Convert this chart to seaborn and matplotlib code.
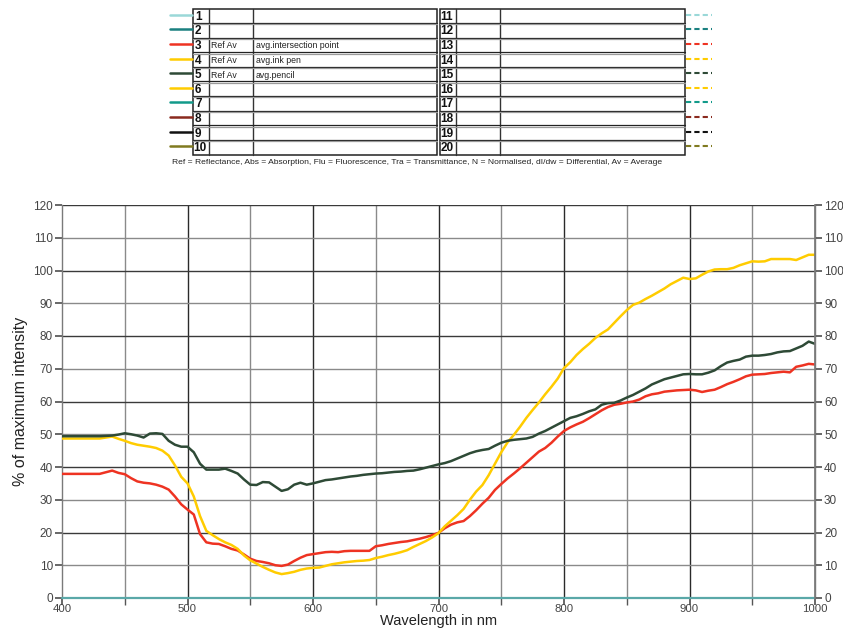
import matplotlib
matplotlib.use("Agg")
import matplotlib.pyplot as plt
import numpy as np
import pandas as pd
import seaborn as sns
from matplotlib.lines import Line2D
from matplotlib.patches import Rectangle

# Wavelength grid (nm), 5 nm steps
wavelength = list(range(400, 1001, 5))

# avg.intersection point (Ref Av)
intersection = [
    37.9, 37.9, 37.9, 37.9, 37.9, 37.9, 37.9, 38.4, 38.9, 38.2,
    37.8, 36.6, 35.6, 35.2, 35.0, 34.6, 34.0, 33.1, 31.0, 28.6,
    27.0, 25.5, 19.5, 17.0, 16.6, 16.5, 15.8, 15.0, 14.5, 13.3,
    12.0, 11.3, 11.0, 10.6, 10.0, 9.8, 10.2, 11.3, 12.3, 13.1,
    13.4, 13.7, 14.0, 14.1, 14.0, 14.3, 14.4, 14.4, 14.4, 14.4,
    15.8, 16.1, 16.5, 16.8, 17.1, 17.3, 17.7, 18.1, 18.6, 19.2,
    19.9, 21.3, 22.4, 23.1, 23.5, 25.0, 26.8, 28.8, 30.6, 33.0,
    34.8, 36.5, 38.0, 39.6, 41.3, 43.0, 44.7, 45.8, 47.4, 49.3,
    51.0, 52.1, 53.0, 53.8, 54.9, 56.1, 57.3, 58.3, 59.0, 59.3,
    59.7, 60.0, 60.6, 61.6, 62.2, 62.5, 63.0, 63.2, 63.4, 63.5,
    63.6, 63.4, 62.9, 63.3, 63.6, 64.4, 65.3, 66.0, 66.8, 67.7,
    68.2, 68.3, 68.4, 68.7, 68.9, 69.1, 68.9, 70.6, 71.0, 71.5,
    71.3,
]

# avg.ink pen (Ref Av)
ink_pen = [
    48.7, 48.7, 48.7, 48.7, 48.7, 48.7, 48.7, 49.0, 49.3, 48.6,
    48.0, 47.3, 46.8, 46.5, 46.2, 45.8, 45.0, 43.5, 40.5, 37.0,
    35.0, 31.0, 25.0, 20.5, 19.2, 18.0, 17.0, 16.2, 15.0, 13.0,
    11.5, 10.5, 9.5, 8.6, 7.8, 7.3, 7.6, 8.0, 8.6, 9.0,
    9.2, 9.3, 9.8, 10.3, 10.6, 10.9, 11.1, 11.3, 11.4, 11.6,
    12.2, 12.6, 13.1, 13.5, 14.0, 14.6, 15.6, 16.5, 17.4, 18.5,
    19.8, 21.9, 23.6, 25.3, 27.2, 30.0, 32.5, 34.5, 37.5, 41.0,
    44.5, 47.5, 49.8, 52.3, 55.0, 57.4, 59.7, 62.2, 64.5, 67.0,
    70.2, 72.0, 74.2, 76.0, 77.6, 79.4, 80.8, 82.0, 84.0, 86.0,
    87.9, 89.5, 90.2, 91.3, 92.3, 93.4, 94.5, 95.8, 96.8, 97.8,
    97.4, 97.6, 98.7, 99.7, 100.3, 100.4, 100.4, 100.8, 101.6, 102.2,
    102.8, 102.7, 102.8, 103.5, 103.5, 103.5, 103.5, 103.2, 104.0, 104.8,
    104.8,
]

# avg.pencil (Ref Av)
pencil = [
    49.4, 49.4, 49.4, 49.4, 49.4, 49.4, 49.4, 49.5, 49.6, 49.9,
    50.3, 50.0, 49.6, 49.0, 50.2, 50.3, 50.1, 48.0, 46.8, 46.2,
    46.2, 44.5, 41.0, 39.2, 39.2, 39.2, 39.5, 38.8, 38.0, 36.2,
    34.6, 34.5, 35.4, 35.3, 34.0, 32.7, 33.2, 34.6, 35.2, 34.6,
    35.0, 35.5, 36.0, 36.2, 36.5, 36.8, 37.1, 37.3, 37.6, 37.8,
    38.0, 38.1, 38.3, 38.5, 38.6, 38.8, 38.9, 39.3, 39.8, 40.3,
    40.8, 41.2, 41.8, 42.6, 43.4, 44.2, 44.8, 45.2, 45.5, 46.5,
    47.4, 48.0, 48.3, 48.5, 48.7, 49.2, 50.2, 51.0, 52.0, 53.0,
    54.0, 55.0, 55.5, 56.2, 57.0, 57.6, 59.0, 59.5, 59.6, 60.3,
    61.2, 62.0, 63.0, 64.0, 65.2, 66.0, 66.8, 67.3, 67.8, 68.3,
    68.4, 68.3, 68.3, 68.8, 69.5, 70.8, 71.9, 72.4, 72.8, 73.7,
    74.0, 74.0, 74.2, 74.5, 75.0, 75.3, 75.4, 76.2, 77.0, 78.3,
    77.6,
]

# Table contents
slot_numbers = list(range(1, 21))
slot_colors = ["#9ad8d8", "#1a8080", "#ee3322", "#ffcc00", "#2e4a36",
               "#ffcc00", "#129a8a", "#8a2a1e", "#111111", "#807a20"]
slot_types = {3: "Ref Av", 4: "Ref Av", 5: "Ref Av"}
slot_names = {3: "avg.intersection point", 4: "avg.ink pen", 5: "avg.pencil"}
footnote = ("Ref = Reflectance, Abs = Absorption, Flu = Fluorescence, "
            "Tra = Transmittance, N = Normalised, dI/dw = Differential, Av = Average")

series_names = ["avg.intersection point", "avg.ink pen", "avg.pencil"]
series_colors = ["#ee3322", "#ffcc00", "#2e4a36"]

y_ticks = list(range(0, 121, 10))
x_ticks = list(range(400, 1001, 100))

sns.set_theme(style="white")
plt.rcParams["font.family"] = ["Liberation Sans", "DejaVu Sans"]

W, H = 843, 630
fig = plt.figure(figsize=(W / 100, H / 100), dpi=100)

# ---- main chart ----
ax = fig.add_axes([62 / W, 1 - 598 / H, (815 - 62) / W, (598 - 205) / H])
df = pd.DataFrame({
    "wavelength": wavelength * 3,
    "value": intersection + ink_pen + pencil,
    "series": [series_names[0]] * len(wavelength)
    + [series_names[1]] * len(wavelength)
    + [series_names[2]] * len(wavelength),
})
sns.lineplot(data=df, x="wavelength", y="value", hue="series",
             palette=dict(zip(series_names, series_colors)),
             linewidth=1.8, legend=False, ax=ax, zorder=3)

ax.set_xlim(400, 1000)
ax.set_ylim(0, 120)

# grid: dark at hundreds, grey at the fifties; horizontal every 10
for xv in range(450, 1000, 50):
    ax.axvline(xv, color="#2a2a2a" if xv % 100 == 0 else "#8a8a8a",
               lw=1.0, zorder=1)
for yv in range(10, 121, 10):
    ax.axhline(yv, color="#3a3a3a" if yv % 20 == 0 else "#8a8a8a",
               lw=1.0, zorder=1)
ax.axhline(0, color="#5aa8a8", lw=1.6, zorder=4, clip_on=False)

ax.set_xticks(x_ticks)
ax.set_xticks(list(range(450, 1000, 100)), minor=True)
ax.set_yticks(y_ticks)
ax.set_xticklabels([str(v) for v in x_ticks])
ax.set_yticklabels([str(v) for v in y_ticks])
ax.tick_params(axis="both", which="both", direction="out", length=5,
               color="#555555", labelcolor="#444444", labelsize=8.5,
               bottom=True, left=True, pad=1.5)
ax.tick_params(axis="x", pad=-1, labelsize=8.2)
for side in ["top", "bottom"]:
    ax.spines[side].set_visible(False)
for side in ["left", "right"]:
    ax.spines[side].set_color("#7a7a7a")
    ax.spines[side].set_linewidth(1.0)

ax.set_xlabel("Wavelength in nm", fontsize=10.5, color="#222222", labelpad=0.5)
ax.set_ylabel("% of maximum intensity", fontsize=11.5, color="#222222", labelpad=4)

ax2 = ax.twinx()
ax2.set_ylim(0, 120)
ax2.set_yticks(y_ticks)
ax2.set_yticklabels([str(v) for v in y_ticks])
ax2.tick_params(axis="y", direction="out", length=5, color="#555555",
                labelcolor="#444444", labelsize=8.5, right=True, pad=1.5)
for side in ["top", "bottom", "left"]:
    ax2.spines[side].set_visible(False)
ax2.spines["right"].set_color("#7a7a7a")
ax2.grid(False)

# ---- trace table above the chart (pixel coordinates) ----
tab = fig.add_axes([0, 0, 1, 1], zorder=5)
tab.set_xlim(0, W)
tab.set_ylim(H, 0)
tab.axis("off")
tab.patch.set_alpha(0)

top, row_h, n_rows = 9.0, 14.6, 10
bottom = top + row_h * n_rows
halves = [(193, 209, 253, 437), (440, 456, 500, 685)]
for half, (x0, x1, x2, x3) in enumerate(halves):
    tab.add_patch(Rectangle((x0, top), x3 - x0, bottom - top, fill=False,
                            ec="#222222", lw=1.1))
    for xv in (x1, x2):
        tab.plot([xv, xv], [top, bottom], color="#333333", lw=1.0)
    for r in range(1, n_rows):
        yv = top + r * row_h
        tab.plot([x0, x3], [yv - 0.6, yv - 0.6], color="#222222", lw=0.9)
        tab.plot([x0, x3], [yv + 0.8, yv + 0.8], color="#9a9a9a", lw=0.9)
    for r in range(n_rows):
        num = slot_numbers[half * n_rows + r]
        yc = top + (r + 0.5) * row_h
        tab.text(x0 + 2 if num < 10 else x0 + 0.5, yc + 0.5, str(num),
                 fontsize=8.5, fontweight="bold", color="#111111",
                 ha="left", va="center")
        if num in slot_types:
            tab.text(x1 + 2, yc + 0.5, slot_types[num], fontsize=6.3,
                     color="#222222", ha="left", va="center")
            tab.text(x2 + 3, yc + 0.5, slot_names[num], fontsize=6.3,
                     color="#222222", ha="left", va="center")
        color = slot_colors[r]
        if half == 0:
            tab.plot([170, 192], [yc - 1.5, yc - 1.5], color=color, lw=1.8)
        else:
            tab.plot([686, 712], [yc - 1.5, yc - 1.5], color=color, lw=1.5,
                     ls=(0, (2.5, 1.5)))

tab.text(172, 162, footnote, fontsize=6.1, color="#222222",
         ha="left", va="center")

fig.savefig("out.png", dpi=100)
